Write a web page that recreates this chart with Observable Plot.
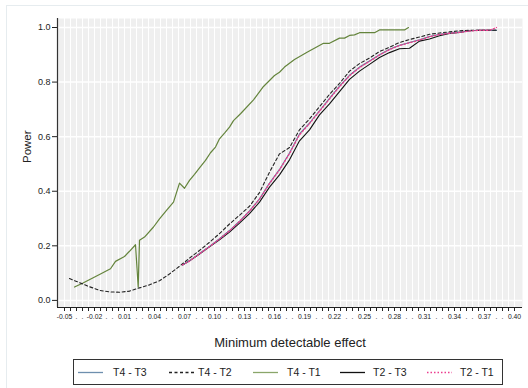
<!DOCTYPE html>
<html>
<head>
<meta charset="utf-8">
<script src="https://cdn.jsdelivr.net/npm/d3@7"></script>
<script src="https://cdn.jsdelivr.net/npm/@observablehq/plot@0.6"></script>
<style>
  html, body { margin: 0; padding: 0; background: #fff; }
  body { width: 528px; height: 388px; position: relative; overflow: hidden; font-family: "Liberation Sans", Arial, sans-serif; }
  #outer { position: absolute; left: 6px; top: 5px; width: 540px; height: 400px; border-left: 1px solid #e6ecef; border-top: 1px solid #e6ecef; box-sizing: border-box; }
  #chart { position: absolute; left: 0; top: 0; }
  #legend { position: absolute; left: 73px; top: 359px; }
</style>
</head>
<body>
<div id="outer"></div>
<div id="chart"></div>
<div id="legend"></div>
<script>
// ---- data ----
const seriesNames = ["T4 - T3", "T4 - T2", "T4 - T1", "T2 - T3", "T2 - T1"];
const seriesColors = ["#5a7d9c", "#222222", "#64843c", "#111111", "#ec3d8e"];

const xTickLabels = ["-0.05","-0.02","0.01","0.04","0.07","0.10","0.13","0.16","0.19","0.22","0.25","0.28","0.31","0.34","0.37","0.40"];
const yTicks = [0, 0.2, 0.4, 0.6, 0.8, 1.0];

// T4 - T1 (green)
const x41 = [-0.04,-0.032,-0.015,-0.004,0.001,0.01,0.015,0.021,0.0237,0.025,0.03,0.039,0.045,0.052,0.059,0.065,0.07,0.075,0.08,0.086,0.091,0.096,0.101,0.105,0.11,0.115,0.119,0.126,0.139,0.149,0.16,0.165,0.17,0.18,0.193,0.209,0.215,0.225,0.23,0.235,0.24,0.245,0.26,0.265,0.29,0.294];
const y41 = [0.049,0.063,0.095,0.116,0.143,0.161,0.18,0.204,0.049,0.22,0.232,0.269,0.299,0.33,0.36,0.43,0.411,0.44,0.462,0.49,0.513,0.541,0.562,0.592,0.613,0.635,0.659,0.684,0.735,0.784,0.824,0.836,0.855,0.883,0.91,0.942,0.942,0.961,0.961,0.971,0.973,0.981,0.981,0.991,0.991,1.0];

// T4 - T2 (dashed)
const x42 = [-0.045,-0.035,-0.025,-0.015,-0.005,0.005,0.015,0.025,0.035,0.045,0.055,0.065,0.075,0.085,0.095,0.105,0.115,0.125,0.135,0.145,0.155,0.165,0.175,0.185,0.195,0.205,0.215,0.225,0.235,0.245,0.255,0.265,0.275,0.285,0.295,0.305,0.315,0.325,0.335,0.345,0.355,0.365,0.375,0.382];
const y42 = [0.08,0.065,0.05,0.037,0.031,0.03,0.034,0.046,0.057,0.072,0.097,0.125,0.155,0.183,0.213,0.245,0.28,0.312,0.345,0.395,0.47,0.537,0.56,0.625,0.665,0.71,0.755,0.795,0.84,0.868,0.888,0.912,0.928,0.945,0.956,0.965,0.975,0.98,0.984,0.988,0.99,0.99,0.99,0.99];

// shared x for T4 - T3, T2 - T3, T2 - T1
const xLate = [0.068,0.075,0.085,0.095,0.105,0.115,0.125,0.135,0.145,0.155,0.165,0.175,0.185,0.195,0.205,0.215,0.225,0.235,0.245,0.255,0.265,0.275,0.285,0.295,0.305,0.315,0.325,0.335,0.345,0.355,0.365,0.375,0.382];
const y43 = [0.13,0.145,0.172,0.198,0.226,0.256,0.29,0.328,0.372,0.43,0.48,0.54,0.61,0.65,0.695,0.74,0.785,0.825,0.855,0.877,0.9,0.92,0.935,0.945,0.955,0.967,0.975,0.98,0.983,0.988,0.99,0.99,0.99];
const y23 = [0.13,0.145,0.17,0.196,0.222,0.25,0.283,0.318,0.36,0.415,0.46,0.515,0.585,0.625,0.68,0.72,0.765,0.81,0.84,0.865,0.89,0.908,0.922,0.924,0.95,0.958,0.97,0.978,0.982,0.988,0.99,0.99,0.99];
const y21 = [0.13,0.144,0.171,0.197,0.225,0.255,0.289,0.327,0.371,0.428,0.478,0.538,0.607,0.648,0.693,0.738,0.783,0.823,0.853,0.876,0.899,0.919,0.934,0.944,0.954,0.966,0.974,0.979,0.982,0.987,0.99,0.99,1.0];

// ---- build ----
const toRows = (xs, ys) => xs.map((x, i) => ({x, y: ys[i]}));
const xDomain = [-0.057, 0.408];
const yDomain = [-0.026, 1.033];
const xTicks = d3.range(xTickLabels.length * 5 - 4).map(i => +(-0.05 + i * 0.006).toFixed(3));
const xFmt = (d) => {
  const k = xTicks.indexOf(d);
  if (k % 5 === 0) return xTickLabels[k / 5];
  if (k % 5 === 2 || k % 5 === 3) return ".";
  return "";
};

const chart = Plot.plot({
  width: 528,
  height: 350,
  marginLeft: 57,
  marginRight: 6,
  marginTop: 18,
  marginBottom: 43,
  style: { fontFamily: "Liberation Sans, Arial, sans-serif", background: "transparent", color: "#222" },
  x: { domain: xDomain, axis: null },
  y: { domain: yDomain, axis: null },
  marks: [
    Plot.frame({ fill: "#efefef", stroke: "none" }),
    Plot.ruleX(xTicks, { stroke: "white", strokeWidth: 1 }),
    Plot.ruleY(yTicks, { stroke: "white", strokeWidth: 1.5 }),
    Plot.axisX({ ticks: xTicks, tickFormat: xFmt, tickSize: 4, tickPadding: 3, fontSize: 6.8, label: null, stroke: "#222" }),
    Plot.axisY({ ticks: yTicks, tickFormat: d => d.toFixed(1), tickSize: 5, tickPadding: 2, fontSize: 9, label: null, stroke: "#222" }),
    Plot.ruleY([yDomain[0]], { stroke: "#222", strokeWidth: 1.2 }),
    Plot.ruleX([xDomain[0]], { stroke: "#333", strokeWidth: 1.2 }),
    Plot.line(toRows(x41, y41), { x: "x", y: "y", stroke: seriesColors[2], strokeWidth: 1.2 }),
    Plot.line(toRows(xLate, y23), { x: "x", y: "y", stroke: seriesColors[3], strokeWidth: 1.1 }),
    Plot.line(toRows(xLate, y43), { x: "x", y: "y", stroke: seriesColors[0], strokeWidth: 1.1 }),
    Plot.line(toRows(x42, y42), { x: "x", y: "y", stroke: seriesColors[1], strokeWidth: 1.1, strokeDasharray: "3,2.5" }),
    Plot.line(toRows(xLate, y21), { x: "x", y: "y", stroke: seriesColors[4], strokeWidth: 1.3, strokeDasharray: "1.5,2" }),
    Plot.text(["Power"], { frameAnchor: "left", dx: -30, rotate: -90, fontSize: 11.5, fill: "#222", lineAnchor: "middle" }),
    Plot.text(["Minimum detectable effect"], { frameAnchor: "bottom", dy: 35, fontSize: 13, fill: "#222", lineAnchor: "middle" })
  ]
});
document.getElementById("chart").append(chart);

// ---- legend ----
const lw = 429, lh = 25;
const dashes = ["none", "3,2.5", "none", "none", "1.5,2"];
const lineX = [5, 96, 180, 267, 354];
const textX = [40, 125, 214, 300, 387];
const svg = d3.create("svg").attr("width", lw + 1).attr("height", lh + 1);
svg.append("rect").attr("x", 0.5).attr("y", 0.5).attr("width", lw).attr("height", lh)
  .attr("fill", "white").attr("stroke", "#333").attr("stroke-width", 1);
seriesNames.forEach((name, i) => {
  svg.append("line").attr("x1", lineX[i]).attr("x2", lineX[i] + 25).attr("y1", 13.5).attr("y2", 13.5)
    .attr("stroke", i === 2 ? "#8aa66a" : i === 0 ? "#6e8fae" : seriesColors[i])
    .attr("stroke-width", i === 4 ? 1.4 : 1.3)
    .attr("stroke-dasharray", dashes[i]);
  svg.append("text").attr("x", textX[i]).attr("y", 13.5).attr("dy", "0.35em")
    .attr("font-size", 10.5).attr("fill", "#222")
    .attr("font-family", "Liberation Sans, Arial, sans-serif").text(name);
});
document.getElementById("legend").append(svg.node());
</script>
</body>
</html>
